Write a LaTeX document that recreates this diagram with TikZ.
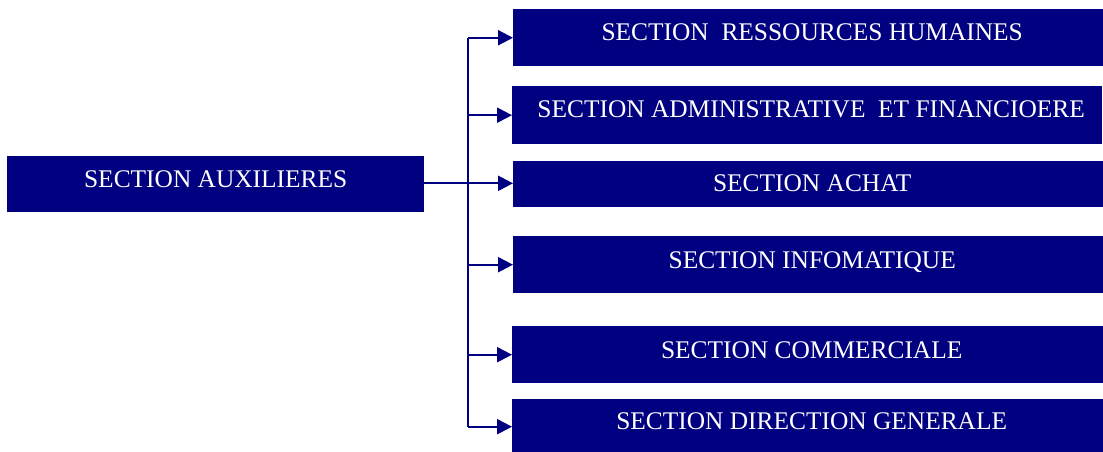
\documentclass[tikz,border=0pt]{standalone}
\usepackage{fontspec}
\setmainfont{Liberation Serif}
\usetikzlibrary{arrows.meta}
\definecolor{navy}{RGB}{0,0,128}
\begin{document}
\begin{tikzpicture}[x=1pt,y=-1pt,
  box/.style={draw=none,fill=navy,inner sep=0pt,anchor=north west},
  lbl/.style={text=white,inner sep=0pt,anchor=base,font=\fontsize{25.4}{30}\selectfont},
  link/.style={draw=navy,line width=2.2pt},
  arr/.style={link,-{Triangle[length=15pt,width=15pt]}}]
\useasboundingbox (0,0) rectangle (1103,452);

% left box
\node[box,minimum width=417pt,minimum height=56pt] (L) at (7,156) {};
% right column of sections
\node[box,minimum width=590pt,minimum height=56.5pt] (B1) at (513,9.3) {};
\node[box,minimum width=590pt,minimum height=58pt] (B2) at (512,86) {};
\node[box,minimum width=590pt,minimum height=46pt] (B3) at (513,161) {};
\node[box,minimum width=590pt,minimum height=57pt] (B4) at (513,236) {};
\node[box,minimum width=591pt,minimum height=57pt] (B5) at (512,326) {};
\node[box,minimum width=591pt,minimum height=54pt] (B6) at (512,398.3) {};

% labels
\node[lbl] (tL) at ([yshift=-3pt]L.center) {SECTION AUXILIERES};
\node[lbl] (t1) at ([xshift=4pt,yshift=-2.5pt]B1.center) {SECTION\ \ RESSOURCES HUMAINES};
\node[lbl] (t2) at ([xshift=4pt,yshift=-2.3pt]B2.center) {SECTION ADMINISTRATIVE\ \ ET FINANCIOERE};
\node[lbl] (t3) at ([xshift=4pt,yshift=-7.7pt]B3.center) {SECTION ACHAT};
\node[lbl] (t4) at ([xshift=4pt,yshift=-4pt]B4.center) {SECTION INFOMATIQUE};
\node[lbl] (t5) at ([xshift=4pt,yshift=-4pt]B5.center) {SECTION COMMERCIALE};
\node[lbl] (t6) at ([xshift=4pt,yshift=-4pt]B6.center) {SECTION DIRECTION GENERALE};

% connectors
\coordinate (J) at (468.3,183.3);
\draw[link] (L.east |- J) -- (J);
\draw[link] (B1.west -| J) -- (J |- 0,426.7);
\draw[arr] (B1.west -| J) -- (B1.west);
\draw[arr] (B2.west -| J) -- (B2.west);
\draw[arr] (J) -- (B3.west |- J);
\draw[arr] (B4.west -| J) -- (B4.west);
\draw[arr] (B5.west -| J) -- (B5.west);
\coordinate (E) at (468.3,426.7);
\draw[arr] (E) -- (B6.west |- E);
\end{tikzpicture}
\end{document}
